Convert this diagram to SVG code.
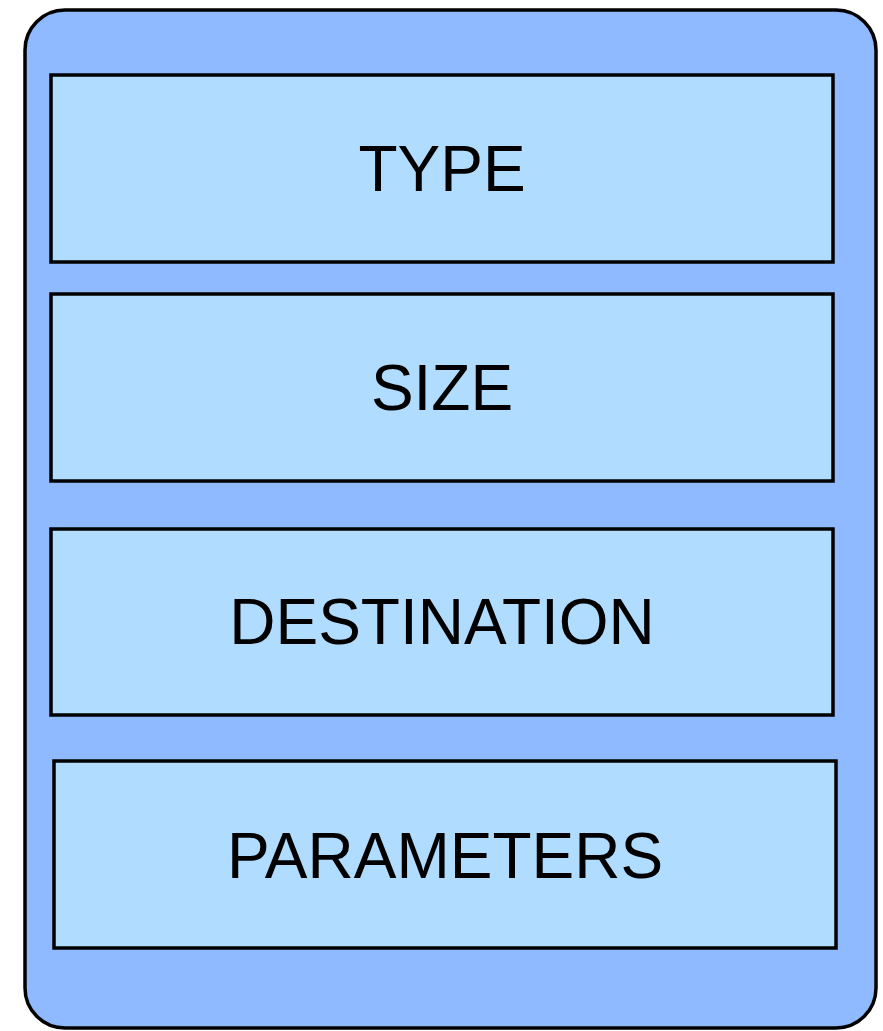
<svg xmlns="http://www.w3.org/2000/svg" width="883" height="1031" viewBox="0 0 883 1031">
  <style>
    .outer { fill: #8fbaff; stroke: #000; stroke-width: 3.5; }
    .field { fill: #b0ddff; stroke: #000; stroke-width: 3.5; }
    .label { font-family: "Liberation Sans", Arial, sans-serif; font-size: 64px; fill: #000; text-anchor: middle; }
  </style>
  <rect id="container" class="outer" x="25" y="10" width="851" height="1018" rx="40" ry="40"/>
  <g id="type">
    <rect class="field" x="51" y="75" width="782" height="187"/>
    <text class="label" x="442" y="191">TYPE</text>
  </g>
  <g id="size">
    <rect class="field" x="51" y="294" width="782" height="187"/>
    <text class="label" x="442" y="410">SIZE</text>
  </g>
  <g id="destination">
    <rect class="field" x="51" y="529" width="782" height="186"/>
    <text class="label" x="442" y="644">DESTINATION</text>
  </g>
  <g id="parameters">
    <rect class="field" x="54" y="761" width="782" height="187"/>
    <text class="label" x="445" y="878">PARAMETERS</text>
  </g>
  <g id="connectors"></g>
</svg>
